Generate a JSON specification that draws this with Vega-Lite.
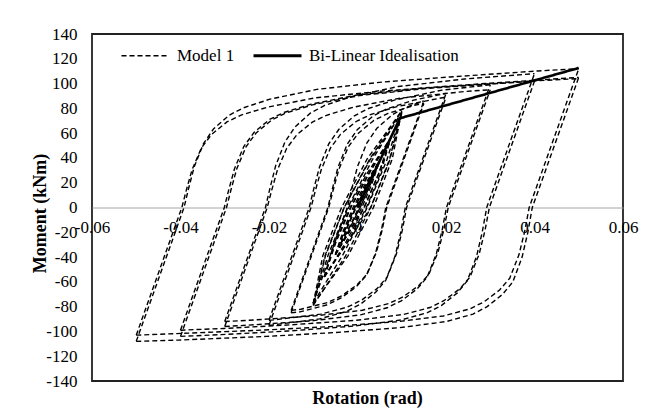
{
  "$schema": "https://vega.github.io/schema/vega-lite/v6.json",
  "width": 531,
  "height": 347,
  "autosize": {"type": "none"},
  "padding": {"left": 92, "top": 34, "right": 32, "bottom": 28},
  "background": "white",
  "config": {
    "font": "Liberation Serif",
    "view": {"stroke": "#222", "strokeWidth": 1.8},
    "axis": {"labelColor": "black", "titleColor": "black", "labelFont": "Liberation Serif", "titleFont": "Liberation Serif", "labelFontSize": 17, "titleFontSize": 18, "titleFontWeight": "bold", "grid": false, "ticks": false, "labelOverlap": false}
  },
  "datasets": {
    "model": [
      {"p":"s0","x":0,"y":0},{"p":"s0","x":0.0021,"y":14.5},{"p":"s0","x":0.00375,"y":29},
      {"p":"s1","x":0.00375,"y":29},{"p":"s1","x":0.00165,"y":14.5},{"p":"s1","x":-0.0003,"y":0},{"p":"s1","x":-0.0021,"y":-14.5},{"p":"s1","x":-0.00375,"y":-29},
      {"p":"s2","x":-0.00375,"y":-29},{"p":"s2","x":-0.00165,"y":-14.5},{"p":"s2","x":0.0003,"y":0},{"p":"s2","x":0.0021,"y":14.5},{"p":"s2","x":0.00375,"y":29},
      {"p":"s3","x":0.00375,"y":29},{"p":"s3","x":0.0017,"y":14.5},{"p":"s3","x":-0.0004,"y":0},{"p":"s3","x":-0.0022,"y":-14.5},{"p":"s3","x":-0.00375,"y":-29},
      {"p":"s4","x":-0.00375,"y":-29},{"p":"s4","x":0.0006,"y":0},{"p":"s4","x":0.00295,"y":19},{"p":"s4","x":0.005,"y":38},
      {"p":"s5","x":0.005,"y":38},{"p":"s5","x":0.00205,"y":19},{"p":"s5","x":-0.0006,"y":0},{"p":"s5","x":-0.00295,"y":-19},{"p":"s5","x":-0.005,"y":-38},
      {"p":"s6","x":-0.005,"y":-38},{"p":"s6","x":-0.00205,"y":-19},{"p":"s6","x":0.0006,"y":0},{"p":"s6","x":0.00295,"y":19},{"p":"s6","x":0.005,"y":38},
      {"p":"s7","x":0.005,"y":38},{"p":"s7","x":0.0021,"y":19},{"p":"s7","x":-0.0007,"y":0},{"p":"s7","x":-0.003,"y":-19},{"p":"s7","x":-0.005,"y":-38},
      {"p":"s8","x":-0.005,"y":-38},{"p":"s8","x":0.0015,"y":0},{"p":"s8","x":0.004875,"y":28},{"p":"s8","x":0.0075,"y":56},
      {"p":"s9","x":0.0075,"y":56},{"p":"s9","x":0.002625,"y":28},{"p":"s9","x":-0.0015,"y":0},{"p":"s9","x":-0.004875,"y":-28},{"p":"s9","x":-0.0075,"y":-56},
      {"p":"s10","x":-0.0075,"y":-56},{"p":"s10","x":-0.002625,"y":-28},{"p":"s10","x":0.0015,"y":0},{"p":"s10","x":0.004875,"y":28},{"p":"s10","x":0.0075,"y":56},
      {"p":"s11","x":0.0075,"y":56},{"p":"s11","x":0.0027,"y":28},{"p":"s11","x":-0.0016,"y":0},{"p":"s11","x":-0.005,"y":-28},{"p":"s11","x":-0.0075,"y":-56},
      {"p":"s12","x":-0.0075,"y":-56},{"p":"s12","x":0.003,"y":0},{"p":"s12","x":0.00725,"y":39},{"p":"s12","x":0.01,"y":78},
      {"p":"s13","x":0.01,"y":78},{"p":"s13","x":0.00275,"y":39},{"p":"s13","x":-0.003,"y":0},{"p":"s13","x":-0.00725,"y":-39},{"p":"s13","x":-0.01,"y":-79},
      {"p":"s14","x":-0.01,"y":-79},{"p":"s14","x":-0.00275,"y":-39.5},{"p":"s14","x":0.003,"y":0},{"p":"s14","x":0.00725,"y":38},{"p":"s14","x":0.01,"y":76},
      {"p":"s15","x":0.01,"y":76},{"p":"s15","x":0.00275,"y":38},{"p":"s15","x":-0.003,"y":0},{"p":"s15","x":-0.00725,"y":-38},{"p":"s15","x":-0.01,"y":-77},
      {"p":"s16","x":-0.005,"y":-38},{"p":"s16","x":-0.00175,"y":-19},{"p":"s16","x":0.001,"y":0},{"p":"s16","x":0.00325,"y":19},{"p":"s16","x":0.005,"y":38},
      {"p":"s17","x":0.005,"y":38},{"p":"s17","x":0.00175,"y":19},{"p":"s17","x":-0.001,"y":0},{"p":"s17","x":-0.00325,"y":-19},{"p":"s17","x":-0.005,"y":-38},
      {"p":"s18","x":-0.0075,"y":-56},{"p":"s18","x":-0.00225,"y":-28},{"p":"s18","x":0.002,"y":0},{"p":"s18","x":0.00525,"y":28},{"p":"s18","x":0.0075,"y":56},
      {"p":"s19","x":0.0075,"y":56},{"p":"s19","x":0.00225,"y":28},{"p":"s19","x":-0.002,"y":0},{"p":"s19","x":-0.00525,"y":-28},{"p":"s19","x":-0.0075,"y":-56},
      {"p":"s20","x":-0.01,"y":-78},{"p":"s20","x":-0.00215,"y":-39},{"p":"s20","x":0.0036,"y":0},{"p":"s20","x":0.00785,"y":39},{"p":"s20","x":0.01,"y":78},
      {"p":"s21","x":0.01,"y":78},{"p":"s21","x":0.00215,"y":39},{"p":"s21","x":-0.0036,"y":0},{"p":"s21","x":-0.00785,"y":-39},{"p":"s21","x":-0.01,"y":-78},
      {"p":"s22","x":-0.01,"y":-77},{"p":"s22","x":-0.00335,"y":-38.5},{"p":"s22","x":0.0022,"y":0},{"p":"s22","x":0.00665,"y":38.5},{"p":"s22","x":0.01,"y":77},
      {"p":"s23","x":0.01,"y":77},{"p":"s23","x":0.00335,"y":38.5},{"p":"s23","x":-0.0022,"y":0},{"p":"s23","x":-0.00665,"y":-38.5},{"p":"s23","x":-0.01,"y":-77},
      {"p":"u1","x":-0.01,"y":-77},{"p":"u1","x":-0.0023,"y":0},{"p":"u1","x":-0.0013,"y":15},{"p":"u1","x":0,"y":33},{"p":"u1","x":0.0021,"y":52},{"p":"u1","x":0.0044,"y":64},{"p":"u1","x":0.0079,"y":75},{"p":"u1","x":0.0111,"y":81},{"p":"u1","x":0.015,"y":86},
      {"p":"d1","x":0.015,"y":86},{"p":"d1","x":0.0064,"y":0},{"p":"d1","x":0.0054,"y":-18.3},{"p":"d1","x":0.0041,"y":-36.6},{"p":"d1","x":0.002,"y":-54.9},{"p":"d1","x":-0.0003,"y":-64.1},{"p":"d1","x":-0.0038,"y":-73.2},{"p":"d1","x":-0.007,"y":-78.7},{"p":"d1","x":-0.013,"y":-84.2},{"p":"d1","x":-0.015,"y":-85},
      {"p":"u2","x":-0.015,"y":-85},{"p":"u2","x":-0.0065,"y":0},{"p":"u2","x":-0.0055,"y":14.1},{"p":"u2","x":-0.0042,"y":30.9},{"p":"u2","x":-0.0021,"y":48.8},{"p":"u2","x":0.0002,"y":60},{"p":"u2","x":0.0037,"y":70.3},{"p":"u2","x":0.0069,"y":75.9},{"p":"u2","x":0.0129,"y":82.5},{"p":"u2","x":0.015,"y":84},
      {"p":"d2","x":0.015,"y":84},{"p":"d2","x":0.0066,"y":0},{"p":"d2","x":0.0056,"y":-17.8},{"p":"d2","x":0.0043,"y":-35.7},{"p":"d2","x":0.0022,"y":-53.5},{"p":"d2","x":-0.0001,"y":-62.4},{"p":"d2","x":-0.0036,"y":-71.4},{"p":"d2","x":-0.0068,"y":-76.7},{"p":"d2","x":-0.0128,"y":-82.1},{"p":"d2","x":-0.015,"y":-83},
      {"p":"u3","x":-0.015,"y":-83},{"p":"u3","x":-0.0067,"y":0},{"p":"u3","x":-0.0057,"y":14.8},{"p":"u3","x":-0.0044,"y":32.5},{"p":"u3","x":-0.0023,"y":51.2},{"p":"u3","x":0,"y":63},{"p":"u3","x":0.0035,"y":73.8},{"p":"u3","x":0.0067,"y":79.7},{"p":"u3","x":0.0127,"y":86.6},{"p":"u3","x":0.02,"y":92},
      {"p":"d3","x":0.02,"y":92},{"p":"d3","x":0.0108,"y":0},{"p":"d3","x":0.0098,"y":-19.5},{"p":"d3","x":0.0085,"y":-39.1},{"p":"d3","x":0.0064,"y":-58.6},{"p":"d3","x":0.0041,"y":-68.4},{"p":"d3","x":0.0006,"y":-78.2},{"p":"d3","x":-0.0026,"y":-84},{"p":"d3","x":-0.0086,"y":-89.9},{"p":"d3","x":-0.0192,"y":-94.8},{"p":"d3","x":-0.02,"y":-95},
      {"p":"u4","x":-0.02,"y":-95},{"p":"u4","x":-0.0105,"y":0},{"p":"u4","x":-0.0095,"y":13.9},{"p":"u4","x":-0.0082,"y":30.5},{"p":"u4","x":-0.0061,"y":48.1},{"p":"u4","x":-0.0038,"y":59.2},{"p":"u4","x":-0.0003,"y":69.4},{"p":"u4","x":0.0029,"y":74.9},{"p":"u4","x":0.0089,"y":81.4},{"p":"u4","x":0.0195,"y":88.8},{"p":"u4","x":0.02,"y":89},
      {"p":"d4","x":0.02,"y":89},{"p":"d4","x":0.0111,"y":0},{"p":"d4","x":0.0101,"y":-18.7},{"p":"d4","x":0.0088,"y":-37.4},{"p":"d4","x":0.0067,"y":-56.1},{"p":"d4","x":0.0044,"y":-65.5},{"p":"d4","x":0.0009,"y":-74.8},{"p":"d4","x":-0.0023,"y":-80.4},{"p":"d4","x":-0.0083,"y":-86},{"p":"d4","x":-0.0189,"y":-90.7},{"p":"d4","x":-0.02,"y":-91},
      {"p":"u5","x":-0.02,"y":-91},{"p":"u5","x":-0.0109,"y":0},{"p":"u5","x":-0.0099,"y":14.8},{"p":"u5","x":-0.0086,"y":32.5},{"p":"u5","x":-0.0065,"y":51.3},{"p":"u5","x":-0.0042,"y":63.1},{"p":"u5","x":-0.0007,"y":74},{"p":"u5","x":0.0025,"y":79.9},{"p":"u5","x":0.0085,"y":86.8},{"p":"u5","x":0.0191,"y":94.7},{"p":"u5","x":0.03,"y":99},
      {"p":"d5","x":0.03,"y":99},{"p":"d5","x":0.0201,"y":0},{"p":"d5","x":0.0191,"y":-18.8},{"p":"d5","x":0.0178,"y":-37.6},{"p":"d5","x":0.0157,"y":-56.5},{"p":"d5","x":0.0134,"y":-65.9},{"p":"d5","x":0.0099,"y":-75.3},{"p":"d5","x":0.0067,"y":-80.9},{"p":"d5","x":0.0007,"y":-86.6},{"p":"d5","x":-0.0099,"y":-91.3},{"p":"d5","x":-0.0249,"y":-95},{"p":"d5","x":-0.03,"y":-96},
      {"p":"u6","x":-0.03,"y":-96},{"p":"u6","x":-0.0204,"y":0},{"p":"u6","x":-0.0194,"y":13.8},{"p":"u6","x":-0.0181,"y":30.3},{"p":"u6","x":-0.016,"y":47.8},{"p":"u6","x":-0.0137,"y":58.8},{"p":"u6","x":-0.0102,"y":68.9},{"p":"u6","x":-0.007,"y":74.4},{"p":"u6","x":-0.001,"y":80.9},{"p":"u6","x":0.0096,"y":88.2},{"p":"u6","x":0.0246,"y":93.7},{"p":"u6","x":0.03,"y":95},
      {"p":"d6","x":0.03,"y":95},{"p":"d6","x":0.0205,"y":0},{"p":"d6","x":0.0195,"y":-18},{"p":"d6","x":0.0182,"y":-36},{"p":"d6","x":0.0161,"y":-54.1},{"p":"d6","x":0.0138,"y":-63.1},{"p":"d6","x":0.0103,"y":-72.1},{"p":"d6","x":0.0071,"y":-77.5},{"p":"d6","x":0.0011,"y":-82.9},{"p":"d6","x":-0.0095,"y":-87.4},{"p":"d6","x":-0.0245,"y":-91},{"p":"d6","x":-0.03,"y":-92},
      {"p":"u7","x":-0.03,"y":-92},{"p":"u7","x":-0.0208,"y":0},{"p":"u7","x":-0.0198,"y":15.3},{"p":"u7","x":-0.0185,"y":33.6},{"p":"u7","x":-0.0164,"y":52.9},{"p":"u7","x":-0.0141,"y":65.1},{"p":"u7","x":-0.0106,"y":76.3},{"p":"u7","x":-0.0074,"y":82.4},{"p":"u7","x":-0.0014,"y":89.5},{"p":"u7","x":0.0092,"y":97.6},{"p":"u7","x":0.0242,"y":103.7},{"p":"u7","x":0.0392,"y":107.8},{"p":"u7","x":0.04,"y":108},
      {"p":"d7","x":0.04,"y":108},{"p":"d7","x":0.0292,"y":0},{"p":"d7","x":0.0282,"y":-19.7},{"p":"d7","x":0.0269,"y":-39.5},{"p":"d7","x":0.0248,"y":-59.2},{"p":"d7","x":0.0225,"y":-69.1},{"p":"d7","x":0.019,"y":-79},{"p":"d7","x":0.0158,"y":-84.9},{"p":"d7","x":0.0098,"y":-90.8},{"p":"d7","x":-0.0008,"y":-95.7},{"p":"d7","x":-0.0158,"y":-99.7},{"p":"d7","x":-0.0308,"y":-102.6},{"p":"d7","x":-0.04,"y":-104},
      {"p":"u8","x":-0.04,"y":-104},{"p":"u8","x":-0.0296,"y":0},{"p":"u8","x":-0.0286,"y":14.1},{"p":"u8","x":-0.0273,"y":31.1},{"p":"u8","x":-0.0252,"y":48.9},{"p":"u8","x":-0.0229,"y":60.2},{"p":"u8","x":-0.0194,"y":70.6},{"p":"u8","x":-0.0162,"y":76.2},{"p":"u8","x":-0.0102,"y":82.8},{"p":"u8","x":0.0004,"y":90.3},{"p":"u8","x":0.0154,"y":96},{"p":"u8","x":0.0304,"y":99.7},{"p":"u8","x":0.04,"y":102},
      {"p":"d8","x":0.04,"y":102},{"p":"d8","x":0.0298,"y":0},{"p":"d8","x":0.0288,"y":-18.8},{"p":"d8","x":0.0275,"y":-37.5},{"p":"d8","x":0.0254,"y":-56.3},{"p":"d8","x":0.0231,"y":-65.7},{"p":"d8","x":0.0196,"y":-75},{"p":"d8","x":0.0164,"y":-80.7},{"p":"d8","x":0.0104,"y":-86.3},{"p":"d8","x":-0.0002,"y":-91},{"p":"d8","x":-0.0152,"y":-94.7},{"p":"d8","x":-0.0302,"y":-97.6},{"p":"d8","x":-0.04,"y":-99},
      {"p":"u9","x":-0.04,"y":-99},{"p":"u9","x":-0.0301,"y":0},{"p":"u9","x":-0.0291,"y":14.2},{"p":"u9","x":-0.0278,"y":31.2},{"p":"u9","x":-0.0257,"y":49.2},{"p":"u9","x":-0.0234,"y":60.5},{"p":"u9","x":-0.0199,"y":71},{"p":"u9","x":-0.0167,"y":76.6},{"p":"u9","x":-0.0107,"y":83.2},{"p":"u9","x":-0.0001,"y":90.8},{"p":"u9","x":0.0149,"y":96.5},{"p":"u9","x":0.0299,"y":100.3},{"p":"u9","x":0.05,"y":105},
      {"p":"d9","x":0.05,"y":105},{"p":"d9","x":0.0395,"y":0},{"p":"d9","x":0.0385,"y":-20},{"p":"d9","x":0.0372,"y":-40},{"p":"d9","x":0.0351,"y":-60},{"p":"d9","x":0.0328,"y":-70},{"p":"d9","x":0.0293,"y":-80},{"p":"d9","x":0.0261,"y":-86},{"p":"d9","x":0.0201,"y":-92},{"p":"d9","x":0.0095,"y":-97},{"p":"d9","x":-0.0055,"y":-101},{"p":"d9","x":-0.0205,"y":-104},{"p":"d9","x":-0.0405,"y":-107},{"p":"d9","x":-0.05,"y":-108},
      {"p":"u10","x":-0.05,"y":-108},{"p":"u10","x":-0.0392,"y":0},{"p":"u10","x":-0.0382,"y":14.9},{"p":"u10","x":-0.0369,"y":32.8},{"p":"u10","x":-0.0348,"y":51.6},{"p":"u10","x":-0.0325,"y":63.6},{"p":"u10","x":-0.029,"y":74.5},{"p":"u10","x":-0.0258,"y":80.4},{"p":"u10","x":-0.0198,"y":87.4},{"p":"u10","x":-0.0092,"y":95.3},{"p":"u10","x":0.0058,"y":101.3},{"p":"u10","x":0.0208,"y":105.3},{"p":"u10","x":0.0408,"y":110.2},{"p":"u10","x":0.05,"y":112},
      {"p":"d10","x":0.05,"y":112},{"p":"d10","x":0.0388,"y":0},{"p":"d10","x":0.0378,"y":-19},{"p":"d10","x":0.0365,"y":-38},{"p":"d10","x":0.0344,"y":-57.1},{"p":"d10","x":0.0321,"y":-66.6},{"p":"d10","x":0.0286,"y":-76.1},{"p":"d10","x":0.0254,"y":-81.8},{"p":"d10","x":0.0194,"y":-87.5},{"p":"d10","x":0.0088,"y":-92.2},{"p":"d10","x":-0.0062,"y":-96.1},{"p":"d10","x":-0.0212,"y":-98.9},{"p":"d10","x":-0.0412,"y":-101.8},{"p":"d10","x":-0.05,"y":-103},
      {"p":"u11","x":-0.05,"y":-103},{"p":"u11","x":-0.0397,"y":0},{"p":"u11","x":-0.0387,"y":13.8},{"p":"u11","x":-0.0374,"y":30.4},{"p":"u11","x":-0.0353,"y":47.9},{"p":"u11","x":-0.033,"y":58.9},{"p":"u11","x":-0.0295,"y":69.1},{"p":"u11","x":-0.0263,"y":74.6},{"p":"u11","x":-0.0203,"y":81},{"p":"u11","x":-0.0097,"y":88.4},{"p":"u11","x":0.0053,"y":93.9},{"p":"u11","x":0.0203,"y":97.6},{"p":"u11","x":0.0403,"y":102.2},{"p":"u11","x":0.05,"y":104}
    ],
    "bilinear": [
      {"x": 0, "y": 0},
      {"x": 0.0096, "y": 72},
      {"x": 0.05, "y": 112.6}
    ]
  },
  "encoding": {
    "x": {
      "field": "x", "type": "quantitative",
      "scale": {"domain": [-0.06, 0.06], "nice": false, "zero": false},
      "axis": {
        "title": "Rotation (rad)",
        "values": [-0.06, -0.04, -0.02, 0, 0.02, 0.04, 0.06],
        "labelExpr": "datum.value == 0 ? '0' : (datum.value < 0 ? '-' : '') + format(abs(datum.value), '.2f')",
        "offset": -173.5,
        "domainColor": "#a6a6a6",
        "domainWidth": 1,
        "labelFlush": false,
        "labelOverlap": false,
        "labelPadding": 12,
        "titleX": 275,
        "titleY": 196,
        "titleAlign": "center",
        "titleAnchor": null,
        "titleBaseline": "alphabetic"
      }
    },
    "y": {
      "field": "y", "type": "quantitative",
      "scale": {"domain": [-140, 140], "nice": false},
      "axis": {
        "title": "Moment (kNm)",
        "values": [-140, -120, -100, -80, -60, -40, -20, 0, 20, 40, 60, 80, 100, 120, 140],
        "labelExpr": "(datum.value < 0 ? '-' : '') + abs(datum.value)",
        "domain": false,
        "labelPadding": 15,
        "labelOverlap": false,
        "titleAngle": -90,
        "titleX": -47,
        "titleY": 179,
        "titleAlign": "center",
        "titleAnchor": null,
        "titleBaseline": "alphabetic"
      }
    }
  },
  "layer": [
    {
      "data": {"name": "model"},
      "mark": {"type": "line", "color": "black", "strokeWidth": 1.4},
      "encoding": {
        "detail": {"field": "p", "type": "nominal"},
        "strokeDash": {
          "datum": "Model 1",
          "type": "nominal",
          "scale": {"domain": ["Model 1", "Bi-Linear Idealisation"], "range": [[5, 3], [1, 0]]},
          "legend": {
            "title": null,
            "orient": "none",
            "legendX": 45,
            "legendY": 13,
            "direction": "horizontal",
            "symbolType": "stroke",
            "symbolSize": 2304,
            "symbolStrokeColor": "black",
            "symbolStrokeWidth": 1.5,
            "labelFont": "Liberation Serif",
            "labelFontSize": 17,
            "labelColor": "black",
            "labelOffset": 23,
            "columnPadding": 12,
            "padding": 0,
            "encode": {"symbols": {"update": {"strokeWidth": {"signal": "datum.value === 'Model 1' ? 1.5 : 3"}, "stroke": {"value": "black"}}}}
          }
        }
      }
    },
    {
      "data": {"name": "bilinear"},
      "mark": {"type": "line", "color": "black", "strokeWidth": 2.6},
      "encoding": {
        "strokeDash": {"datum": "Bi-Linear Idealisation", "type": "nominal"}
      }
    }
  ]
}
